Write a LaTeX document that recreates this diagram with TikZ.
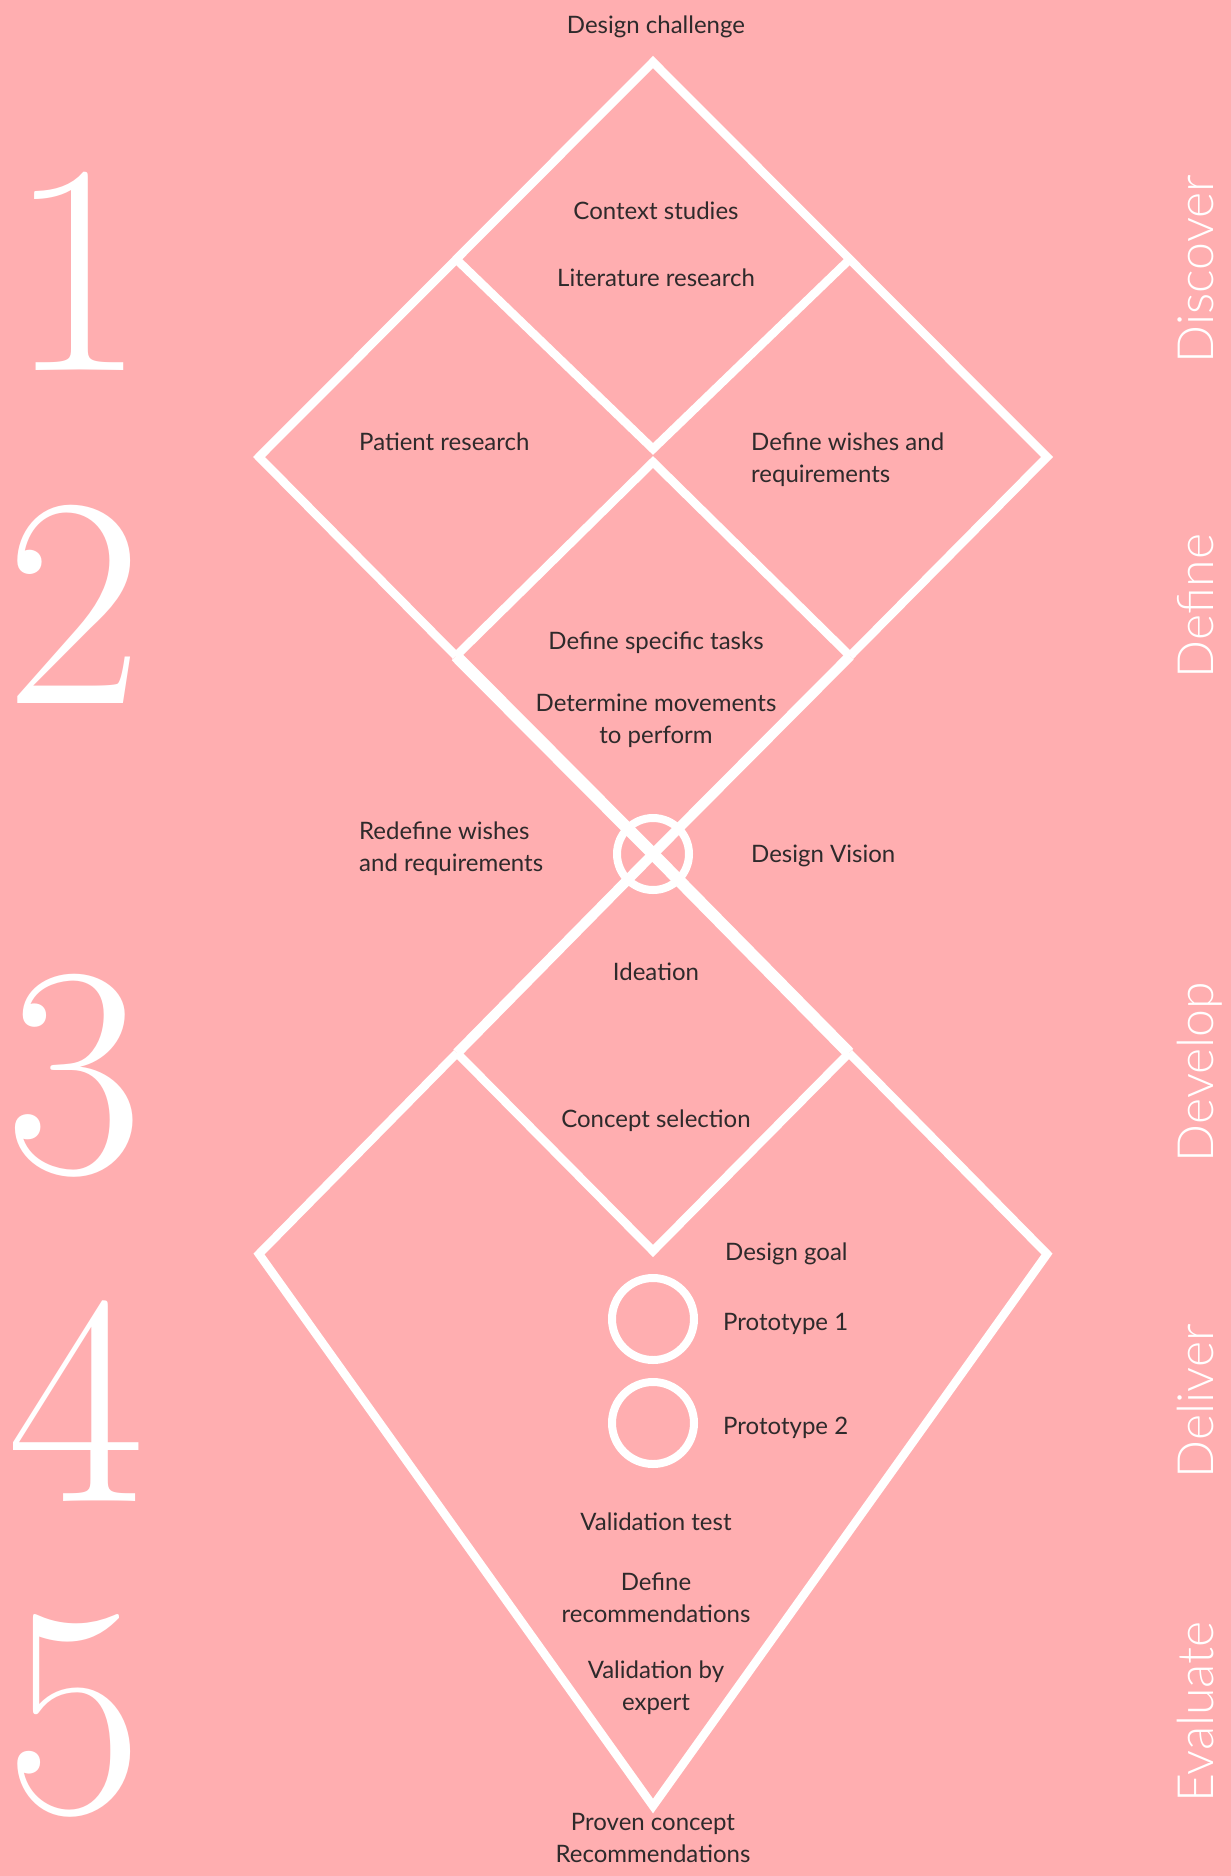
\documentclass[tikz,border=0pt]{standalone}
\usepackage{fontspec}
\newfontfamily\labelfont{Lato}
\newfontfamily\lightfont{Lato Light}
\definecolor{bg}{HTML}{FFAEB0}
\definecolor{txt}{HTML}{2E2A2B}
\begin{document}
\begin{tikzpicture}[x=1pt,y=-1pt,
  wline/.style={draw=white,line width=8.5pt},
  wmid/.style={draw=white,line width=10pt},
  wthick/.style={draw=white,line width=12pt},
  ring/.style={draw=white,line width=8pt},
  lbl/.style={font=\labelfont\fontsize{24}{32}\selectfont,text=txt,inner sep=0pt,align=center},
  one/.style={text height=17pt,text depth=5pt},
  num/.style={font=\fontsize{300}{300}\selectfont,text=white,inner sep=0pt,anchor=base},
  phase/.style={font=\lightfont\fontsize{50}{50}\selectfont,text=white,inner sep=0pt,rotate=90,anchor=base}]
\useasboundingbox (0,0) rectangle (1231,1876);
\fill[bg] (0,0) rectangle (1231,1876);

% vertices
\coordinate (T) at (653,62);
\coordinate (L1) at (259,457);
\coordinate (R1) at (1047,457);
\coordinate (X) at (653,854);
\coordinate (mUL) at (456,259);
\coordinate (mUR) at (850,259);
\coordinate (c1) at (653,449);
\coordinate (c2) at (653,462);
\coordinate (mLL) at (456,656);
\coordinate (mLR) at (850,656);
\coordinate (L2) at (259,1254);
\coordinate (R2) at (1047,1254);
\coordinate (B) at (653,1806);
\coordinate (nL) at (457,1053);
\coordinate (nR) at (849,1053);
\coordinate (nB) at (653,1251);

% outlines
\draw[wline] (mLL) -- (L1) -- (T) -- (R1) -- (mLR);
\draw[wline] (mUL) -- (c1) -- (mUR);
\draw[wline] (mLL) -- (c2) -- (mLR);
\draw[wthick] (mLL) -- (X);
\draw[wmid] (mLR) -- (X);
\draw[wline] (nL) -- (L2) -- (B) -- (R2) -- (nR);
\draw[wline] (nL) -- (nB) -- (nR);
\draw[wmid] (nL) -- (X);
\draw[wthick] (nR) -- (X);

% circles
\node[ring,circle,minimum size=72pt,inner sep=0pt] (vision) at (X) {};
\node[ring,circle,minimum size=82pt,inner sep=0pt] (proto1) at (653,1319) {};
\node[ring,circle,minimum size=82pt,inner sep=0pt] (proto2) at (653,1423) {};

% labels
\node[lbl,one] (challenge) at (656,28) {Design challenge};
\node[lbl,one] (context) at (656,213) {Context studies};
\node[lbl,one] (literature) at (656,280) {Literature research};
\node[lbl,one,anchor=west] (patient) at (359,444) {Patient research};
\node[lbl,anchor=west,align=left] (wishes) at (751,460) {Define wishes and\\requirements};
\node[lbl,one] (tasks) at (656,643) {Define specific tasks};
\node[lbl] (movements) at (656,721) {Determine movements\\to perform};
\node[lbl,anchor=west,align=left] (redefine) at (359,849) {Redefine wishes\\and requirements};
\node[lbl,one,anchor=west] (visionlbl) at (751,856) {Design Vision};
\node[lbl,one] (ideation) at (656,974) {Ideation};
\node[lbl,one] (selection) at (656,1121) {Concept selection};
\node[lbl,one,anchor=west] (goal) at (725,1254) {Design goal};
\node[lbl,one,anchor=west] (p1) at (723,1324) {Prototype 1};
\node[lbl,one,anchor=west] (p2) at (723,1428) {Prototype 2};
\node[lbl,one] (validation) at (656,1524) {Validation test};
\node[lbl] (recs) at (656,1598) {Define\\recommendations};
\node[lbl] (expert) at (656,1688) {Validation by\\expert};
\node[lbl] (proven) at (653,1838) {Proven concept\\Recommendations};

% big numbers
\node[num] (n1) at (77,370) {1};
\node[num] (n2) at (74,703) {2};
\node[num] (n3) at (74,1172) {3};
\node[num] (n4) at (76,1501) {4};
\node[num] (n5) at (74,1812) {5};

% phases
\node[phase] (discover) at (1213,269) {Discover};
\node[phase] (define) at (1213,606) {Define};
\node[phase] (develop) at (1213,1072) {Develop};
\node[phase] (deliver) at (1213,1401) {Deliver};
\node[phase] (evaluate) at (1213,1712) {Evaluate};
\end{tikzpicture}
\end{document}
